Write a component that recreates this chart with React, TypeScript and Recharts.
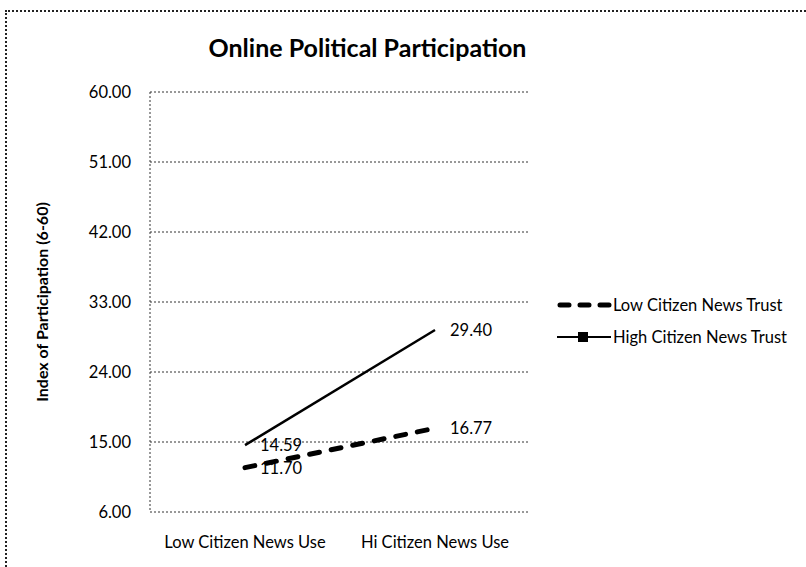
import React from 'react';
import { LineChart, Line, XAxis, YAxis, CartesianGrid, LabelList } from 'recharts';

const categories = ['Low Citizen News Use', 'Hi Citizen News Use'];
const lowTrust = [11.7, 16.77];
const highTrust = [14.59, 29.4];
const yTicks = [6, 15, 24, 33, 42, 51, 60];

const FONT = 'Lato, "Open Sans", sans-serif';

const data = categories.map((name, i) => ({ name, low: lowTrust[i], high: highTrust[i] }));

// value labels sit just right of each point
const PointLabel = (props: any) => {
  const { x, y, value } = props;
  return (
    <text x={x + 15} y={y + 6} fontSize={16.5} fontFamily={FONT} fill="#000">
      {Number(value).toFixed(2)}
    </text>
  );
};

const LegendBox = () => (
  <div style={{ fontFamily: FONT, fontSize: 16.5, color: '#000' }}>
    <div style={{ display: 'flex', alignItems: 'center', height: 22, marginBottom: 10 }}>
      <svg width={57} height={10}>
        <line x1={4} y1={5} x2={54} y2={5} stroke="#000" strokeWidth={5} strokeDasharray="9 11" strokeLinecap="round" />
      </svg>
      <span>Low Citizen News Trust</span>
    </div>
    <div style={{ display: 'flex', alignItems: 'center', height: 22 }}>
      <svg width={57} height={14}>
        <line x1={1} y1={7} x2={55} y2={7} stroke="#000" strokeWidth={2} />
        <rect x={22} y={2} width={10} height={10} fill="#000" />
      </svg>
      <span>High Citizen News Trust</span>
    </div>
  </div>
);

export default function App() {
  return (
    <div style={{ position: 'absolute', left: 0, top: 0, width: 806, height: 567, background: '#fff' }}>
      <div
        style={{
          position: 'absolute', left: 5, top: 10, right: 0, bottom: 0,
          borderTop: '2px dotted #222', borderLeft: '2px dotted #222',
        }}
      />
      <div
        style={{
          position: 'absolute', left: 0, top: 32, width: 735, textAlign: 'center',
          fontFamily: FONT, fontWeight: 700, fontSize: 25, color: '#000',
        }}
      >
        Online Political Participation
      </div>
      <div style={{ position: 'absolute', left: 0, top: 0 }}>
        <LineChart width={806} height={567} data={data} margin={{ top: 92, right: 276, bottom: 25, left: 90 }}>
          <CartesianGrid vertical={false} stroke="#333" strokeDasharray="2 2" />
          <XAxis
            dataKey="name"
            scale="band"
            axisLine={false}
            tickLine={false}
            tickSize={0}
            tickMargin={24}
            tick={{ fontFamily: FONT, fontSize: 16.5, fill: '#000' }}
          />
          <YAxis
            width={60}
            domain={[6, 60]}
            ticks={yTicks}
            interval={0}
            tickFormatter={(v: number) => v.toFixed(2)}
            tickLine={false}
            tickSize={0}
            tickMargin={19}
            axisLine={{ stroke: '#333', strokeDasharray: '2 2' }}
            tick={{ fontFamily: FONT, fontSize: 16.5, fill: '#000' }}
            label={{
              value: 'Index of Participation (6-60)',
              angle: -90,
              position: 'insideLeft',
              offset: -48,
              style: { fontFamily: FONT, fontSize: 16, fontWeight: 700, fill: '#000', textAnchor: 'middle' },
            }}
          />
          <Line
            type="linear"
            dataKey="low"
            name="Low Citizen News Trust"
            stroke="#000"
            strokeWidth={5}
            strokeDasharray="10 12"
            strokeLinecap="round"
            dot={false}
            isAnimationActive={false}
          >
            <LabelList dataKey="low" content={PointLabel} />
          </Line>
          <Line
            type="linear"
            dataKey="high"
            name="High Citizen News Trust"
            stroke="#000"
            strokeWidth={2.5}
            dot={false}
            isAnimationActive={false}
          >
            <LabelList dataKey="high" content={PointLabel} />
          </Line>
        </LineChart>
      </div>
      <div style={{ position: 'absolute', left: 556, top: 294, width: 250 }}>
        <LegendBox />
      </div>
    </div>
  );
}
